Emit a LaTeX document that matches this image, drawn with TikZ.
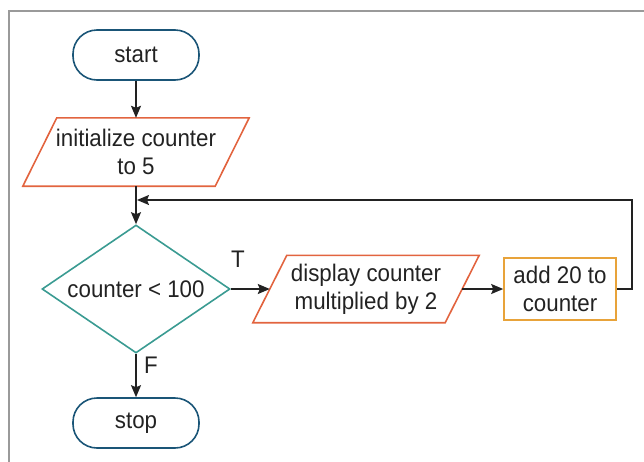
\documentclass[tikz,border=0pt]{standalone}
\usepackage{fontspec}
\setmainfont{Liberation Sans}[FakeStretch=0.93]
\usetikzlibrary{arrows.meta,shapes.geometric}
\definecolor{termc}{HTML}{1A5577}
\definecolor{parac}{HTML}{E2643F}
\definecolor{diac}{HTML}{3A9B92}
\definecolor{procc}{HTML}{E8A33A}
\definecolor{framec}{HTML}{9A9A9A}
\definecolor{arrc}{HTML}{222222}
\begin{document}
\begin{tikzpicture}[x=1pt,y=-1pt,
  every node/.style={font=\fontsize{24}{28}\selectfont, text=arrc},
  term/.style={draw=termc, line width=1.6pt, rectangle, rounded corners=24pt, minimum width=126pt, minimum height=50pt, inner sep=0pt},
  parabox/.style={rectangle, minimum width=192pt, minimum height=68pt, inner sep=0pt, align=center},
  paraline/.style={draw=parac, line width=1.6pt, line join=miter},
  decis/.style={draw=diac, line width=1.6pt, diamond, aspect=1.47, minimum width=188pt, minimum height=128pt, inner sep=0pt},
  procbox/.style={draw=procc, line width=1.6pt, rectangle, minimum width=112pt, minimum height=62pt, inner sep=0pt, align=center},
  arr/.style={draw=arrc, line width=1.5pt, -{Stealth[length=12pt,width=10pt,inset=2pt]}},
  lbl/.style={inner sep=0pt}]
\useasboundingbox (0,0) rectangle (644,461);
\draw[framec, line width=2pt] (9,462) -- (9,11) -- (645,11);

\node[term] (start) at (136,55) {start};
\node[parabox] (init) at (136,152) {initialize counter\\to 5};
\draw[paraline] ([xshift=17pt]init.north west) -- ([xshift=17pt]init.north east) -- ([xshift=-17pt]init.south east) -- ([xshift=-17pt]init.south west) -- cycle;
\node[decis] (dec) at (136,289) {counter < 100};
\node[parabox, minimum height=67pt] (disp) at (366,289) {display counter\\multiplied by 2};
\draw[paraline] ([xshift=17pt]disp.north west) -- ([xshift=17pt]disp.north east) -- ([xshift=-17pt]disp.south east) -- ([xshift=-17pt]disp.south west) -- cycle;
\node[procbox] (add) at (560,289) {add 20 to\\counter};
\node[term] (stop) at (136,423) {stop};

\node[lbl] (tl) at (238,259) {T};
\node[lbl] (fl) at (151,365) {F};

\coordinate (corner) at (632,200);
\coordinate (loopend) at (137,200);

\draw[arr] (start.south) -- (init.south |- init.north);
\draw[arr] (init.south) -- (dec.north);
\draw[arr] (dec.east) -- (disp.west);
\draw[arr] (disp.east) -- (add.west);
\draw[arr] (dec.south) -- (stop.north);
\draw[arr] (add.east) -| (corner) -- (loopend);
\end{tikzpicture}
\end{document}
